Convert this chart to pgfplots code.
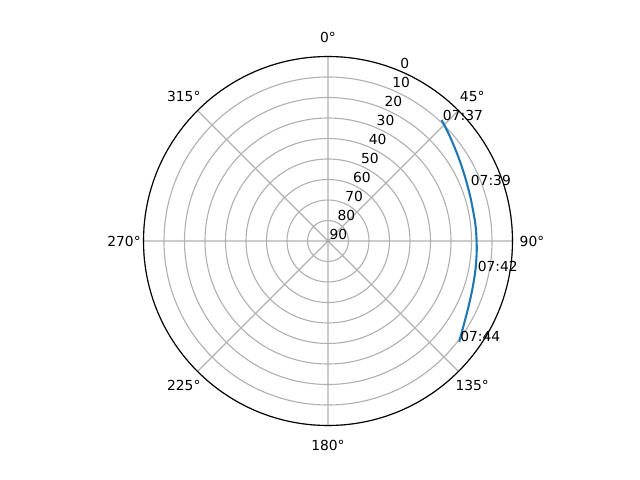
\documentclass[border=0pt]{standalone}
\usepackage{fontspec}
\setmainfont{DejaVu Sans}
\usepackage{pgfplots}
\usepgfplotslibrary{polar}
\pgfplotsset{compat=1.18}
\usepackage{pgfplotstable}
\definecolor{mplblue}{HTML}{1F77B4}
\definecolor{mplgrid}{HTML}{B0B0B0}
% azimuth (deg, clockwise from north), elevation (deg)
\pgfplotstableread{
az el
43.2 9.0
49.5 11.7
57.1 14.3
64.9 16.2
72.7 17.3
80.5 17.7
85.7 17.6
93.5 17.3
101.2 16.7
108.8 15.7
116.3 14.0
122.3 11.9
127.5 9.3
}\track
\begin{document}
\begin{tikzpicture}[font=\fontsize{10}{12}\selectfont]
\path[use as bounding box] (0,0) rectangle (6.4in,4.8in);
\begin{polaraxis}[
  at={(3.28in,2.39in)}, anchor=center,
  scale only axis, width=3.69in, height=3.69in,
  xmin=0, xmax=360, ymin=0, ymax=90,
  xtick={0,45,...,315},
  xticklabels={},
  ytick={0,10,...,90}, yticklabels={},
  grid=major,
  major grid style={mplgrid, line width=0.8pt},
  axis line style={black, line width=0.8pt},
  y axis line style={draw=none},
  major tick length=0,
  /pgf/number format/assume math mode=true,
  clip=false,
]
\addplot[mplblue, line width=1.5pt, smooth] table[x expr={90-\thisrow{az}}, y expr={90-\thisrow{el}}] {\track};
% azimuth labels
\node[anchor=center, inner sep=0pt] at (axis cs:90,99.5) {0°};
\node[anchor=center, inner sep=0pt] at (axis cs:45,99.5) {45°};
\node[anchor=center, inner sep=0pt] at (axis cs:0,99.5) {90°};
\node[anchor=center, inner sep=0pt] at (axis cs:-45,99.5) {135°};
\node[anchor=center, inner sep=0pt] at (axis cs:-90,99.5) {180°};
\node[anchor=center, inner sep=0pt] at (axis cs:-135,99.5) {225°};
\node[anchor=center, inner sep=0pt] at (axis cs:180,99.5) {270°};
\node[anchor=center, inner sep=0pt] at (axis cs:135,99.5) {315°};
% elevation labels
\node[anchor=south west, inner sep=1pt] at (axis cs:67.5,0) {90};
\node[anchor=south west, inner sep=1pt] at (axis cs:67.5,10) {80};
\node[anchor=south west, inner sep=1pt] at (axis cs:67.5,20) {70};
\node[anchor=south west, inner sep=1pt] at (axis cs:67.5,30) {60};
\node[anchor=south west, inner sep=1pt] at (axis cs:67.5,40) {50};
\node[anchor=south west, inner sep=1pt] at (axis cs:67.5,50) {40};
\node[anchor=south west, inner sep=1pt] at (axis cs:67.5,60) {30};
\node[anchor=south west, inner sep=1pt] at (axis cs:67.5,70) {20};
\node[anchor=south west, inner sep=1pt] at (axis cs:67.5,80) {10};
\node[anchor=south west, inner sep=1pt] at (axis cs:67.5,90) {0};
% pass time labels
\node[anchor=base west, inner sep=0pt] at (axis cs:46.5,81.3) {07:37};
\node[anchor=base west, inner sep=0pt] at (axis cs:21.1,74.6) {07:39};
\node[anchor=base west, inner sep=0pt] at (axis cs:-11.6,74.5) {07:42};
\node[anchor=base west, inner sep=0pt] at (axis cs:-37.3,81.0) {07:44};
\end{polaraxis}
\end{tikzpicture}
\end{document}
